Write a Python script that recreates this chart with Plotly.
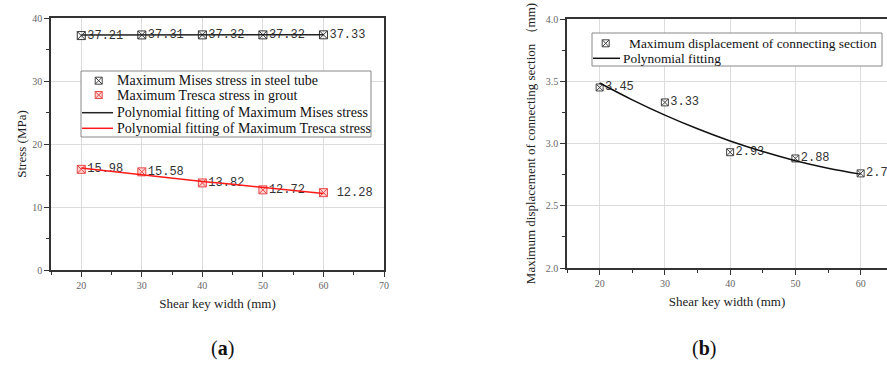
import plotly.graph_objects as go

# ---------------- data ----------------
width_mm = [20, 30, 40, 50, 60]
mises_stress = [37.21, 37.31, 37.32, 37.32, 37.33]
tresca_stress = [15.98, 15.58, 13.82, 12.72, 12.28]
mises_labels = ["37.21", "37.31", "37.32", "37.32", "37.33"]
tresca_labels = ["15.98", "15.58", "13.82", "12.72", " 12.28"]

fit_x = [20, 25, 30, 35, 40, 45, 50, 55, 60]
mises_fit = [37.30, 37.31, 37.32, 37.32, 37.32, 37.32, 37.32, 37.33, 37.33]
tresca_fit = [16.2, 15.65, 15.15, 14.6, 14.05, 13.6, 13.1, 12.65, 12.15]

displacement = [3.45, 3.33, 2.93, 2.88, 2.76]
disp_labels = ["3.45", "3.33", "2.93", "2.88", "2.76"]
disp_fit = [3.486, 3.351, 3.228, 3.118, 3.020, 2.935, 2.862, 2.802, 2.754]

legend_a = ["Maximum Mises stress in steel tube",
            "Maximum Tresca stress in grout",
            "Polynomial fitting of Maximum Mises stress",
            "Polynomial fitting of Maximum Tresca stress"]
legend_b = ["Maximum displacement of connecting section",
            "Polynomial fitting"]

W, H = 887, 378
def px(x):
    return x / W
def py(y):
    return 1 - y / H

serif = "Liberation Serif, Times New Roman, serif"
mono = "Liberation Mono, monospace"
RED = "#ff1a1a"

fig = go.Figure()

# ---- panel (a) ----
fig.add_trace(go.Scatter(
    x=width_mm, y=mises_stress, mode="markers+text", text=mises_labels,
    textposition="middle right", cliponaxis=False,
    textfont=dict(family=mono, size=12, color="#333"),
    marker=dict(symbol="square-x-open", size=8, color="#333", line=dict(width=1)),
    xaxis="x", yaxis="y"))
fig.add_trace(go.Scatter(
    x=width_mm, y=tresca_stress, mode="markers+text", text=tresca_labels,
    textposition="middle right", cliponaxis=False,
    textfont=dict(family=mono, size=12, color="#333"),
    marker=dict(symbol="square-x", size=8, color="#ffd0d0", line=dict(width=1, color="#e84a4a")),
    xaxis="x", yaxis="y"))
fig.add_trace(go.Scatter(
    x=fit_x, y=mises_fit, mode="lines", line=dict(color="#222", width=1.5),
    xaxis="x", yaxis="y"))
fig.add_trace(go.Scatter(
    x=fit_x, y=tresca_fit, mode="lines", line=dict(color=RED, width=1.5),
    xaxis="x", yaxis="y"))

# ---- panel (b) ----
fig.add_trace(go.Scatter(
    x=width_mm, y=displacement, mode="markers+text", text=disp_labels,
    textposition="middle right", cliponaxis=False,
    textfont=dict(family=mono, size=12, color="#333"),
    marker=dict(symbol="square-x-open", size=7, color="#444", line=dict(width=1)),
    xaxis="x2", yaxis="y2"))
fig.add_trace(go.Scatter(
    x=fit_x, y=disp_fit, mode="lines", line=dict(color="#111", width=1.5, shape="spline"),
    xaxis="x2", yaxis="y2"))

axis_common = dict(
    showline=True, linecolor="#333", linewidth=1.5, mirror=True,
    showgrid=True, gridcolor="#dcdcdc", gridwidth=1, zeroline=False,
    ticks="outside", ticklen=5, tickcolor="#333", automargin=False,
    tickfont=dict(family=serif, size=10, color="#666"),
)
title_font = dict(family=serif, size=13, color="#222")


def key_square_x(cx, cy, color, fill="white", s=3.5):
    """legend key drawn as a small square with a cross (paper coords)"""
    return [
        dict(type="rect", xref="paper", yref="paper", x0=px(cx - s), x1=px(cx + s),
             y0=py(cy + s), y1=py(cy - s), line=dict(color=color, width=1),
             fillcolor=fill, layer="above"),
        dict(type="line", xref="paper", yref="paper", x0=px(cx - s), x1=px(cx + s),
             y0=py(cy + s), y1=py(cy - s), line=dict(color=color, width=1), layer="above"),
        dict(type="line", xref="paper", yref="paper", x0=px(cx - s), x1=px(cx + s),
             y0=py(cy - s), y1=py(cy + s), line=dict(color=color, width=1), layer="above"),
    ]


# ---- hand-drawn legends (box, keys, labels) ----
shapes = [
    dict(type="rect", xref="paper", yref="paper", x0=px(81), x1=px(371), y0=py(137), y1=py(71),
         line=dict(color="#888", width=1), fillcolor="white", layer="above"),
    dict(type="line", xref="paper", yref="paper", x0=px(82), x1=px(113), y0=py(112.7), y1=py(112.7),
         line=dict(color="#222", width=1.5), layer="above"),
    dict(type="line", xref="paper", yref="paper", x0=px(82), x1=px(113), y0=py(128.3), y1=py(128.3),
         line=dict(color=RED, width=1.5), layer="above"),
    dict(type="rect", xref="paper", yref="paper", x0=px(592), x1=px(882), y0=py(66), y1=py(33),
         line=dict(color="#888", width=1), fillcolor="white", layer="above"),
    dict(type="line", xref="paper", yref="paper", x0=px(593), x1=px(620), y0=py(58.3), y1=py(58.3),
         line=dict(color="#111", width=1.5), layer="above"),
]
shapes += key_square_x(98.7, 80.7, "#444")
shapes += key_square_x(98.7, 95.0, "#e84a4a", fill="#ffd6d6")
shapes += key_square_x(605.7, 43.3, "#444")

annotations = []
rows_a = [80.7, 95.0, 112.7, 128.3]
for txt, yy in zip(legend_a, rows_a):
    annotations.append(dict(text=txt, x=px(115), y=py(yy), xref="paper", yref="paper",
                            xanchor="left", yanchor="middle", showarrow=False,
                            font=dict(family=serif, size=14, color="#111")))
annotations.append(dict(text=legend_b[0], x=px(627), y=py(43.3), xref="paper", yref="paper",
                        xanchor="left", yanchor="middle", showarrow=False,
                        font=dict(family=serif, size=13.4, color="#111")))
annotations.append(dict(text=legend_b[1], x=px(621), y=py(58.3), xref="paper", yref="paper",
                        xanchor="left", yanchor="middle", showarrow=False,
                        font=dict(family=serif, size=13.4, color="#111")))
annotations += [
    dict(text="(<b>a</b>)", x=px(209), y=py(362), xref="paper", yref="paper",
         showarrow=False, font=dict(family=serif, size=20, color="#111")),
    dict(text="(<b>b</b>)", x=px(718), y=py(362), xref="paper", yref="paper",
         showarrow=False, font=dict(family=serif, size=20, color="#111")),
]

fig.update_layout(
    width=W, height=H, margin=dict(l=0, r=0, t=0, b=0),
    paper_bgcolor="white", plot_bgcolor="white",
    showlegend=False,
    xaxis=dict(**axis_common, domain=[px(51), px(384)], range=[15, 70], dtick=10,
               minor=dict(ticks="outside", dtick=5, ticklen=3, tickcolor="#333", showgrid=False),
               title=dict(text="Shear key width (mm)", font=title_font, standoff=9),
               anchor="y"),
    yaxis=dict(**axis_common, domain=[py(270), py(18)], range=[0, 40], dtick=10,
               minor=dict(ticks="outside", dtick=5, ticklen=3, tickcolor="#333", showgrid=False),
               title=dict(text="Stress (MPa)", font=title_font, standoff=3),
               anchor="x"),
    xaxis2=dict(**axis_common, domain=[px(567), 1.0], range=[15, 64.04], dtick=10,
                minor=dict(ticks="outside", dtick=5, ticklen=3, tickcolor="#333", showgrid=False),
                title=dict(text="Shear key width (mm)", font=title_font, standoff=9),
                anchor="y2"),
    yaxis2=dict(**axis_common, domain=[py(268), py(19)], range=[2.0, 4.0], dtick=0.5, tickformat=".1f",
                minor=dict(ticks="outside", dtick=0.25, ticklen=3, tickcolor="#333", showgrid=False),
                title=dict(text="Maximum displacement of connecting section （mm)", font=title_font, standoff=7),
                anchor="x2"),
    shapes=shapes,
    annotations=annotations,
)

fig.write_html("out.html")
